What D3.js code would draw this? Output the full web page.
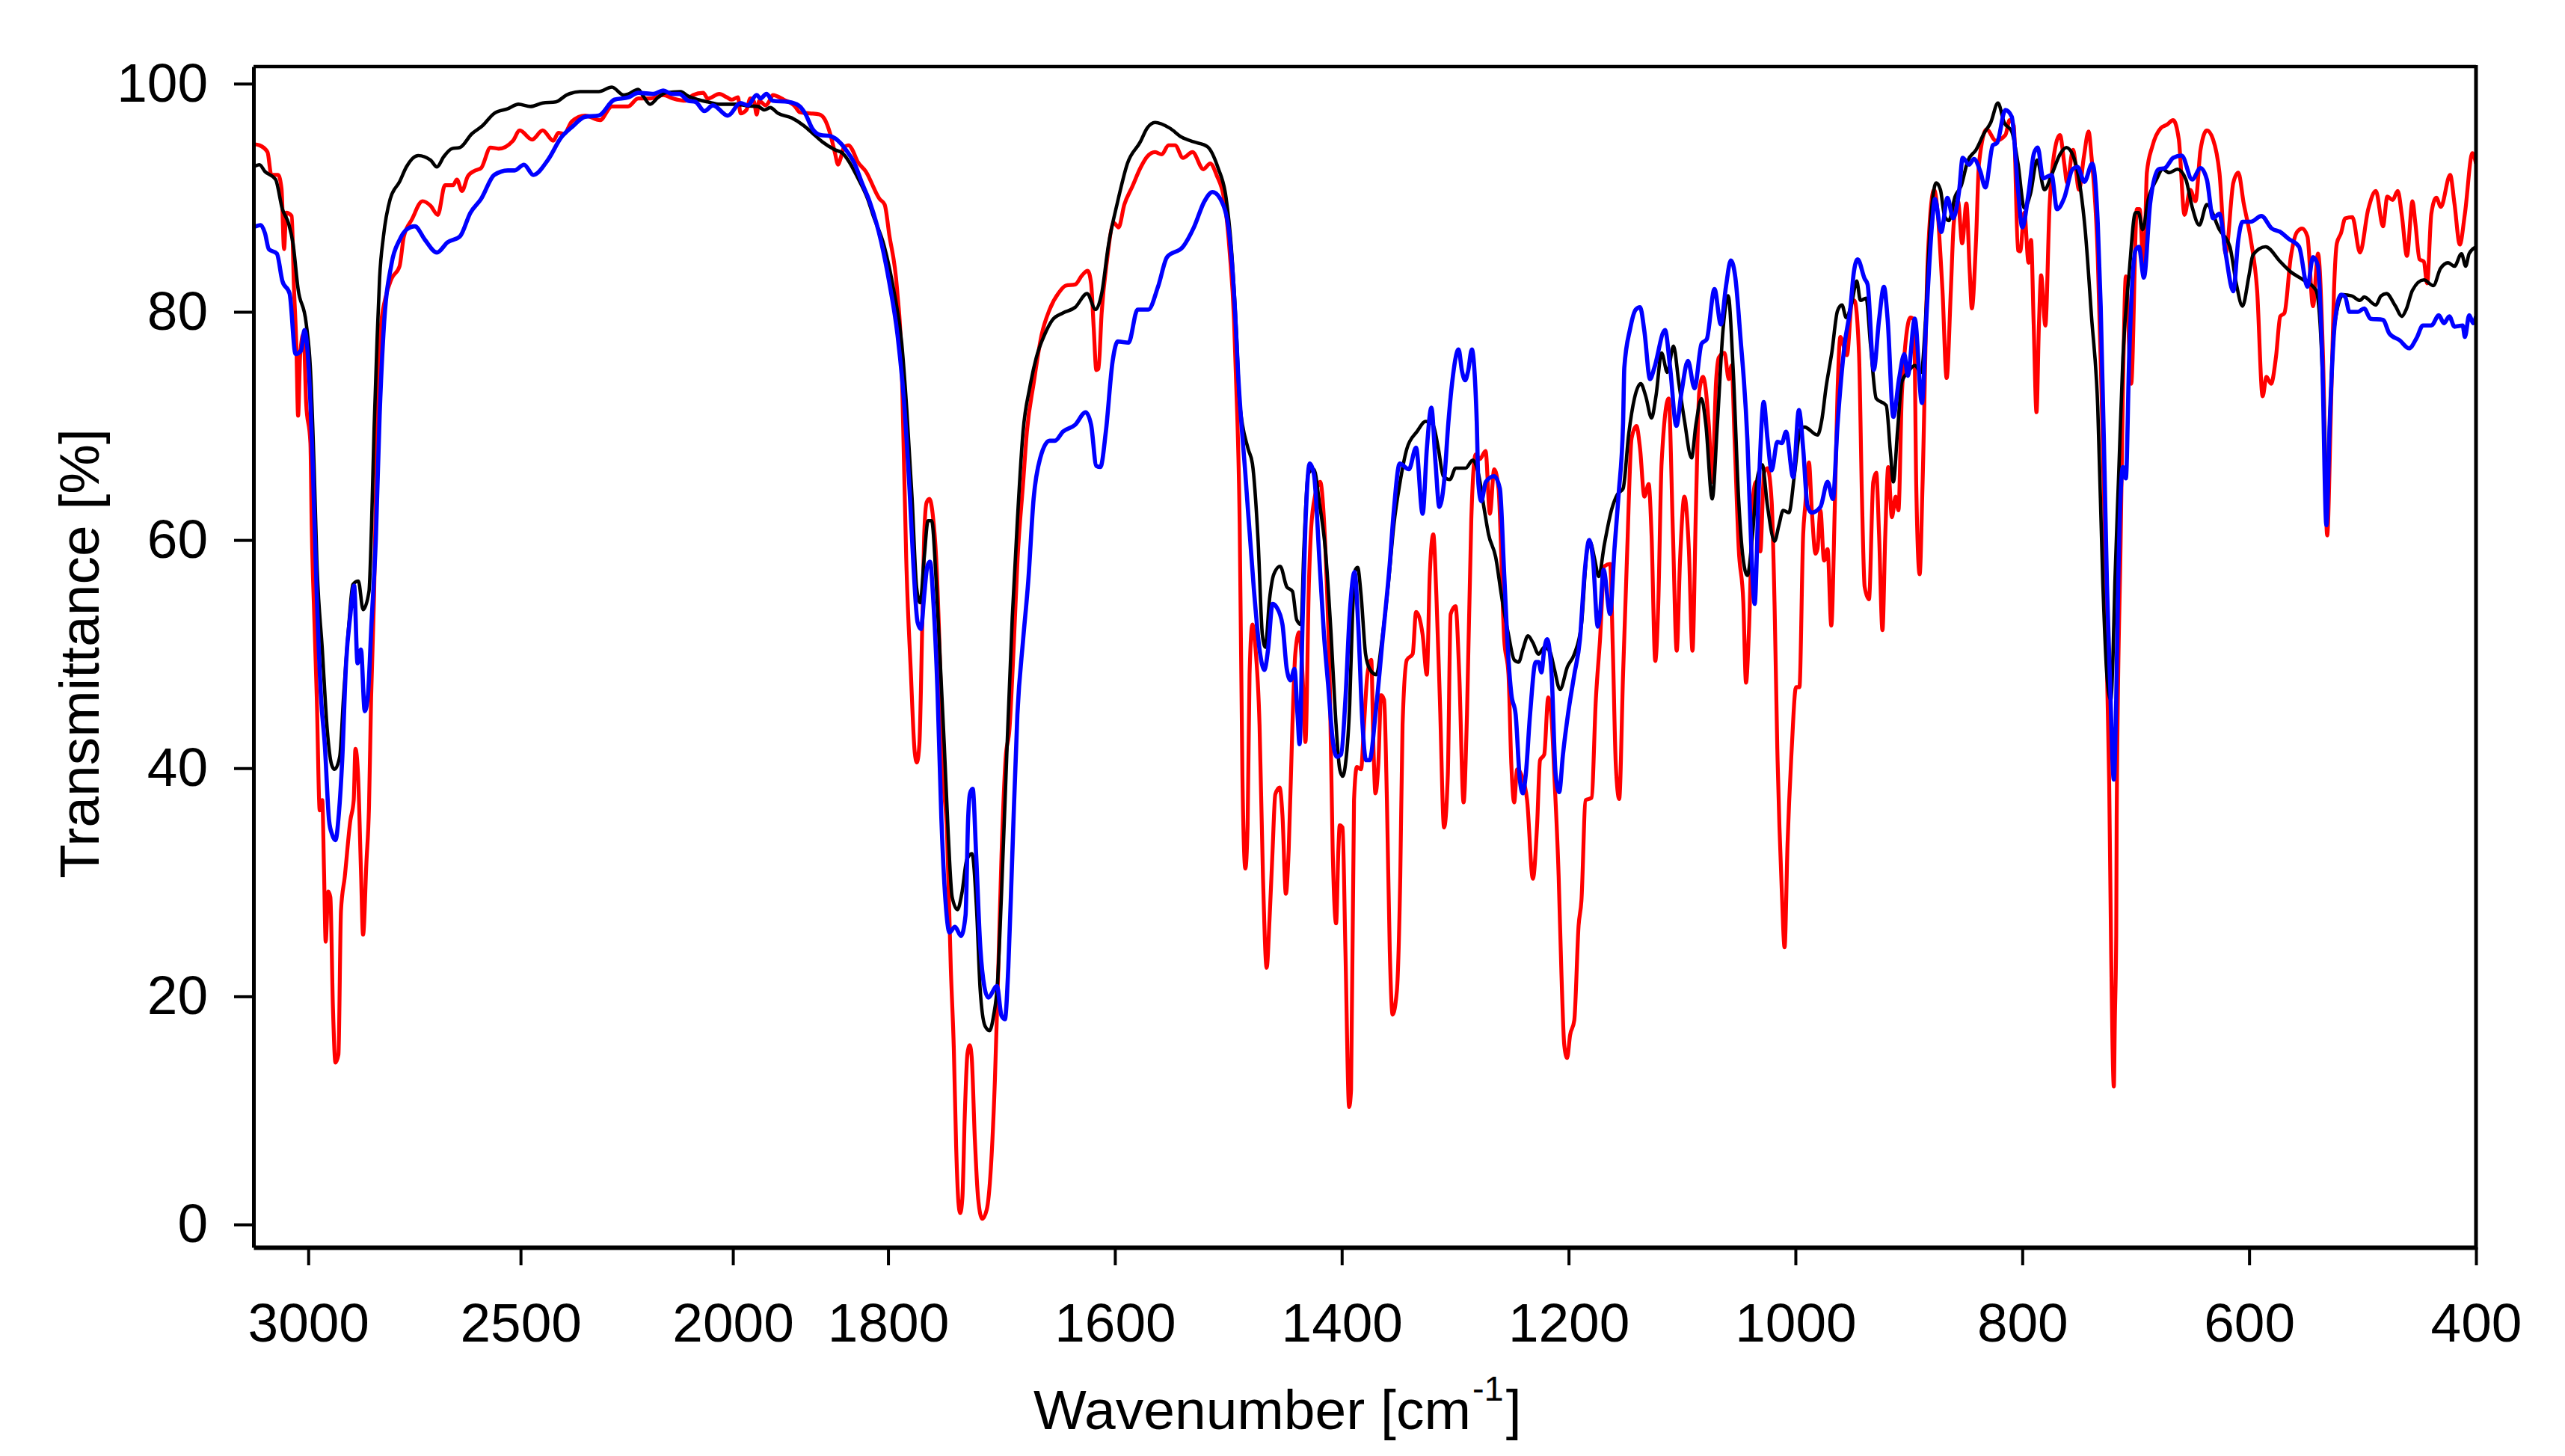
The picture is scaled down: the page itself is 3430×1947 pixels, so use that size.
<!DOCTYPE html>
<html>
<head>
<meta charset="utf-8">
<title>FTIR spectra</title>
<script src="https://cdn.jsdelivr.net/npm/d3@7"></script>
<style>
  html, body { margin: 0; padding: 0; background: #fff; }
  svg { display: block; }
  text { font-family: "Liberation Sans", Arial, sans-serif; fill: #000; }
</style>
</head>
<body>
<svg id="chart" width="3430" height="1947"></svg>
<script>
// tick labels
const xTicks = [3000, 2500, 2000, 1800, 1600, 1400, 1200, 1000, 800, 600, 400];
const yTicks = [0, 20, 40, 60, 80, 100];

// spectra: [wavenumber, transmittance %]
const redSpectrum = [
[3129,94.7],[3115,94.6],[3096,94],[3087,92],[3071,92],[3063,90.8],[3057,85.5],[3052,88.7],[3039,88.4],[3034,82.4],[3028,76.9],[3024,70.9],[3019,76.3],[3011,78.1],[3005,72],[2995,68.5],[2992,61.3],[2986,53.4],[2980,46.2],[2973,36.3],[2967,37.2],[2963,31.1],[2959,24.8],[2953,29.2],[2948,28.7],[2942,19.1],[2936,14.2],[2929,14.9],[2923,27.5],[2914,30.5],[2901,35.4],[2893,37.2],[2889,41.7],[2883,39.6],[2876,31.1],[2871,25.4],[2863,31.8],[2857,36.6],[2852,46.2],[2845,55.2],[2838,69.7],[2829,78.7],[2819,81.1],[2804,82.9],[2785,84],[2775,86.6],[2756,88.1],[2731,89.7],[2712,89.3],[2695,88.5],[2678,91.1],[2659,91.1],[2650,91.6],[2638,90.6],[2624,91.9],[2606,92.4],[2593,92.6],[2571,94.4],[2552,94.3],[2518,95],[2502,95.9],[2473,95.1],[2448,95.9],[2423,95],[2411,95.7],[2398,95.6],[2379,96.7],[2348,97.2],[2313,96.8],[2285,98],[2247,98],
[2223,98.7],[2194,98.7],[2164,99],[2141,98.7],[2111,98.5],[2094,99],[2070,99.2],[2059,98.7],[2032,99.1],[2014,98.8],[2003,98.6],[1988,98.8],[1982,97.4],[1968,97.7],[1959,98.7],[1950,98.4],[1944,97.3],[1938,98.5],[1923,98.1],[1912,98.6],[1906,99],[1892,98.6],[1882,98],[1878,97.5],[1869,97.4],[1860.6,97.3],[1856,96.9],[1851,95.6],[1847,94],[1844,92.9],[1842,93.4],[1839,94.4],[1834.7,94.6],[1831.5,94.2],[1827,93.2],[1819.6,92.3],[1807.5,89.9],
[1803,89.4],[1799,86.8],[1792,81.9],[1788,75.4],[1786,66.9],[1784,58.4],[1780,48.6],[1776.5,41.4],[1774.6,40.5],[1772.4,42.1],[1770,51.9],[1768.2,60.3],[1766,63.3],[1763.5,63.6],[1760.7,62.3],[1757.6,58.4],[1754,48.6],[1751.7,40.1],[1748,34.3],[1744.7,22.5],[1742,15.3],[1740,6.9],[1738,2],[1736.4,1],[1734.5,2.3],[1732.4,9.5],[1730,15],[1728,15.7],[1726.3,14.7],[1723.5,7.5],[1720.6,2.3],[1717,0.5],[1713,1.3],[1709.4,4.9],[1705.8,12.7],[1702.8,22.5],[1700,32.3],[1696.4,40.8],[1693,43.4],[1689,51.2],[1685.8,58.4],[1681,64.9],[1677.6,69.5],[1671.7,73.7],[1664.6,78],[1657.6,80.2],[1649.3,81.7],[1643.4,82.3],[1635,82.4],[1629,83.2],[1624,83.6],[1621,82.5],[1618.7,78.6],[1616.4,74.9],[1614.5,75],[1611.7,79.9],[1607,84.5],[1601,87.8],[1596.8,87.4],[1591.7,89.4],[1584.6,91],[1577.6,92.6],[1571.6,93.6],[1564.6,94],[1558.7,93.8],[1552.8,94.6],[1547,94.6],[1540,93.5],[1531.6,94],[1522,92.5],[1516,93],[1510.4,92],[1503,89.4],[1498.7,85.1],[1495,79.3],
[1493.4,74.6],[1490,61.4],[1487.6,39.4],[1485,31.2],[1483,35],[1481.3,48.2],[1478.8,52.6],[1476.3,50.8],[1472.5,43.8],[1469.5,30.6],[1466.2,22.5],[1463.7,26.7],[1461,32.8],[1458.6,37.7],[1454.8,38.3],[1452.3,35.9],[1449.3,29],[1446.8,32.8],[1443.5,43.8],[1441,50],[1437.7,51.9],[1434.6,48.2],[1432,42.3],[1429,56.1],[1427,61],[1423.3,64],[1419,65.1],[1415.7,61.8],[1413.2,56.1],[1410.7,48.2],[1408,32.8],[1405,26.4],[1403,32.8],[1401.8,35],[1399.3,34.8],[1396.8,24.1],[1393.5,10.3],[1391.8,11.8],[1389.2,37.2],[1386.7,40.1],[1383,39.9],[1380.4,43.8],[1377.4,48.2],[1374,49.5],[1372,41.6],[1370.3,37.8],[1367.8,40.3],[1365.3,46.4],[1362.7,46],[1360.2,37.2],[1357.7,24.1],[1355.2,18.4],[1351.4,20.5],[1348.4,30.6],[1346.4,43.8],[1342.6,49.5],[1337.5,50],[1334.5,53.7],[1328.7,51.7],[1325,48.2],[1322.4,57],[1319.3,60.5],[1316.6,55.2],[1313.5,46],[1309.8,34.8],[1306.5,39.4],[1304,53.5],[1299.7,54.2],[1296.4,48.2],[1292.6,37],[1289.6,44.7],[1285.8,61.8],[1282,67.5],[1278.2,67.1],[1273.2,67.8],[1269.4,62.3],[1265.6,66.2],[1261.8,64.5],[1256.8,51.3],[1253,48.2],[1250.5,40.3],[1248,37],[1245.4,39.9],[1241.6,39.4],[1236.6,37.2],[1231.5,30.3],[1227.8,35],[1225.2,40.7],[1221.5,41.2],[1218,46.2],[1215,44.3],[1212.6,39.4],[1208.8,30.6],[1206.3,21.9],[1203.8,15.7],[1201.3,14.6],[1198.7,16.6],[1195,17.9],[1191.2,26.2],[1188.7,28.4],[1185,37.2],[1179.8,37.4],[1176,46],[1172.3,51.3],[1168.5,57.7],[1163.4,57.9],[1161,50.4],[1158.4,40.3],[1155.4,37.3],[1152,48.2],[1148.3,59.2],[1144.5,68.9],[1140.2,70],[1137,68],
[1133.2,63.8],[1129.4,64.9],[1126.9,60.5],[1123.6,49.4],[1121,54.2],[1118,66.8],[1111.8,72.4],[1108,60.5],[1104.7,50.3],[1101.7,58.4],[1097.9,63.8],[1094,59.2],[1090.8,50.3],[1087.8,62.6],[1084.8,73],[1081.5,74.3],[1076.4,70.1],[1073.4,65.1],[1070,73.9],[1067.6,76],[1062.6,76.4],[1058.8,74.1],[1056.3,75.3],[1053.7,68.9],[1050,59.2],[1046,54.6],[1043.6,47.5],[1041,52.1],[1037.3,63.8],[1034.8,65.1],[1031,59],[1027.7,65.9],[1024.7,66.3],[1021,63.4],[1018.4,54.2],[1016,41.7],[1012,29.1],[1009.6,24.3],[1007,33.3],[1003.3,41.7],[999.5,47.1],[996.5,47.1],[993.2,60.5],[991.4,63],[988.1,66.8],[985.6,62.6],[982.3,58.8],[980.6,59.2],[978,62.6],[974.8,58.2],[971.7,59.2],[968.4,52.5],[965.4,62.6],[962.9,73],[960.4,77.8],[954.6,76.2],[950.3,80.8],[948,81],[944,76.4],[941.4,63.8],[939,55.9],[935.2,54.8],[931.4,65.1],[928.8,65.9],[926.3,60.5],[923.3,52.1],[920.8,60.5],[918.2,66.4],[915,62],[911.7,63.8],[909.2,62.6],[906.1,73],[898.6,79.5],[895.5,79.3],[893.5,64.7],[890.5,57],[888,64.7],
[883.3,84.8],[877.8,90.7],[870.4,81.9],[866.7,74.2],[863,81.9],[860.4,87.8],[856.7,89.7],[853,86],[849.3,89.5],[846.3,83.4],[844.5,80.3],[840.8,86.3],[838.2,93],[831.5,96],[823.4,95],[814.9,95.5],[811.2,96.8],[807.5,96.3],[803.8,85.4],[801.9,85.3],[798.2,88.7],[794.5,84.3],[792.3,86.3],[790,79],[787.5,71.2],[785.3,79],[783.4,83.2],[779.7,78.8],[776,89.2],[772.3,93.6],[766.8,95.5],[763,93],[760.5,91.3],[755.3,94.2],[750,90.7],[745.7,93.6],[741.6,95.8],[739,93.6],[733.5,84.8],[731,76],[728,64],[726,52],[725,46.8],[723.4,38.6],[721.7,24],[719.3,12.1],[718.4,18],[717.2,25.4],[716.8,35.7],[713.3,60],[711.3,73],[708.7,83.1],[704,73.7],[699,89],[696.5,89],[692.8,83.1],[690.2,92.2],[685.4,94.5],[678,96.1],[672.5,96.4],[667,96.8],[662,95.1],[657,88.5],[652,90.7],[647.3,89.7],[642.9,94.2],[637.3,95.9],[631.8,95.1],[626.2,92.2],[620.7,85.1],[614,91.3],[609.6,92.2],[604.8,89.5],[598.5,86.3],[593,81.9],[588.1,72.6],[584.8,74.3],[580.7,73.7],[576.3,76.1],[572.6,79.6],[568.9,79.9],[563.3,84.8],[557.8,87],[553.3,87.3],[548.6,86.6],[543.7,80.5],[539.3,85.1],[534.9,76.1],[531.2,60.4],[528.2,70.2],[525.2,81.9],[522.7,86],[519,86.9],[515.3,88.2],[509,88.3],[502.3,85.2],[495,89],[488.3,90.6],[482,87.5],[478.2,90.1],[473.5,89.8],[469,90.6],[465.3,88.4],[460.9,84.9],[456,89.7],[453.5,87.8],[449.8,84.6],[446,84.4],[443.1,82.5],[439.4,88.6],[435,90],[431,89.2],[422.8,92],[419,89.5],[414.3,85.9],[409.8,88.6],[403.2,93.9],[400,93]
];

const blackSpectrum = [
[3129,92.7],[3115,92.9],[3102,92.3],[3077,91.6],[3061,89],[3046,87.7],[3036,86],[3024,82],[3005,79],[2995,75],[2986,66],[2980,58.3],[2967,50.4],[2955,43.2],[2945,40.3],[2938,39.9],[2926,41],[2917,46.2],[2904,52.8],[2895,56.1],[2882,56.4],[2871,53.9],[2857,55.5],[2851,61.3],[2845,69.7],[2838,77.5],[2832,83],[2823,86.6],[2807,89.9],[2785,91.4],[2769,92.7],[2741,93.7],[2712,93.3],[2697,92.7],[2681,93.6],[2662,94.3],[2643,94.4],[2615,95.6],[2590,96.3],[2562,97.4],[2530,97.8],[2505,98.2],[2477,98],[2448,98.3],[2417,98.4],[2392,99],[2360,99.3],[2316,99.3],[2285,99.7],[2257,99],
[2246,99.1],[2223,99.5],[2211,98.9],[2195,98.2],[2176,98.8],[2158,99.2],[2123,99.3],[2105,98.9],[2082,98.6],[2059,98.4],[2030,98.2],[1994,98.2],[1965,98.06],[1941,98],[1926,97.7],[1912,97.9],[1897,97.4],[1885,97],[1874,96.3],[1867,95.7],[1858,94.9],[1846.8,94.2],[1840,93.9],[1834,93.1],[1827,91.8],[1818,89.9],
[1813,88.4],[1803.5,85.8],[1795,81.9],[1788,77.3],[1783.5,71.4],[1778.8,63.6],[1774.8,55.8],[1771.7,54.5],[1768.2,58.4],[1764.7,61.7],[1761.6,61.7],[1757.6,56.4],[1754,49.3],[1750.5,42.1],[1747,34.3],[1743.5,28.7],[1738.8,27.6],[1735,29],[1730.5,32],[1726,32.5],[1722,27.7],[1718.8,20.6],[1714.5,17.4],[1710.5,17],[1707,18.3],[1703.5,21.2],[1700,29],[1695,42.1],[1690.5,53.2],[1686,61.7],[1681,69.5],[1675,73.4],[1669.3,76],[1662,78],[1655,79.3],[1645.8,79.9],[1635,80.4],[1624.6,81.6],[1617,80.2],[1611.7,81.6],[1605.8,85.8],[1597.5,89.7],[1589,93],[1577.6,94.9],[1571.6,96.1],[1564.6,96.6],[1551.6,96.1],[1541,95.3],[1530.5,94.9],[1518.7,94.5],[1509,92.6],[1502,90],[1497.5,85.8],[1492.8,78],
[1490,72],[1482.6,68],[1478.8,66.7],[1473.8,60],[1470,51.7],[1467.4,50.6],[1463.7,54.8],[1459.9,57],[1454.3,57.7],[1448.5,55.9],[1443.5,55.5],[1439.7,53],[1435.9,52.6],[1433.4,59.2],[1429.6,65.8],[1424.6,66.2],[1419.5,63.1],[1414.5,59.2],[1409.4,51.7],[1405.6,44.7],[1401.8,39.9],[1399.3,39.3],[1396.8,40.3],[1393,45.6],[1390.5,53.5],[1388,57.4],[1386,57.6],[1383,55.2],[1379,50],[1375.4,48.7],[1369.6,48.2],[1364,51.7],[1359,56.1],[1354,61.4],[1348.9,64.9],[1342.6,68],[1333.7,69.5],[1326,70.4],[1320,70.2],[1314.8,68],[1310.5,65.6],[1304.7,65.3],[1299.6,66.3],[1290.8,66.3],[1284.5,67],[1279.5,65.8],[1274.4,62.7],[1270.6,60.5],[1264.3,58.5],[1259.3,55.2],[1253,51.7],[1248,49.5],[1244,49.3],[1240.4,50.4],[1235.8,51.6],[1231.5,51],[1226.5,50],[1221.5,50.6],[1216.4,50.2],[1212.6,48.7],[1207.6,46.9],[1201,48.9],[1195,50],[1188.7,52.6],[1183.6,59.2],[1181,59.8],[1177,58.3],[1173.5,56.8],[1168.5,59.6],[1162,62.7],[1157,64],[1152,64.5],[1147,69.3],[1142,72.4],[1136.4,73.7],
[1132,72.6],[1126.9,70.7],[1123,72.6],[1118,76.4],[1113,74.7],[1107.5,77],[1103,73.9],[1097.9,70.5],[1091.6,67.2],[1087.8,70.1],[1082.8,72.4],[1079,70.1],[1073.4,63.6],[1068.9,70.1],[1063.8,78.5],[1059.3,81.4],[1055,75.1],[1050,63.4],[1046.2,58.4],[1042.4,56.9],[1038,60.3],[1033.5,65.5],[1029.3,66.6],[1024.7,63],[1018.4,59.9],[1014.6,61.3],[1010.8,62.6],[1005.8,62.4],[1000.7,65.9],[995.7,69.7],[992,69.9],[980.6,69.2],[976.8,70.5],[973,73.4],[968,76.4],[962.9,80.1],[959,80.6],[955.3,79.5],[950.3,80.8],[946,82.7],[942.7,81],[937.7,81.2],[933.9,77.2],[928.8,72.4],[920,71.8],[916.2,67.6],[913.7,65.1],[909.9,69.7],[906.1,73.9],[901,74.7],[894.8,75.3],[889,74.7],[885.5,79],[881.5,87],
[875.9,91.3],[872.2,90.7],[868.5,88.4],[864.8,88],[859.3,90.1],[853.7,91.1],[848.2,93.2],[840.8,94.2],[833.4,95.7],[827.8,96.6],[821.5,98.3],[816,96.6],[809.3,95.8],[803.8,93],[798.2,89.1],[792.7,90.4],[787,93.3],[780.5,90.7],[774.2,92],[766.8,93.8],[761.2,94.4],[755.7,93.8],[750,91.6],[744.6,87.2],[739,79.6],[733.5,71.7],[729,56.2],[725.3,48],[722,46],[720,50],[718.4,56.2],[715,65.8],[711.3,76],[705.8,83.4],[700.2,88.7],[697.6,88.7],[693.9,87.2],[689.1,89.8],[681.7,91.6],[676.2,92.5],[670.6,92.2],[663.2,92.5],[655.8,91.6],[650.3,89.2],[644,87.6],[637.3,89.4],[626.2,87.2],[617,85.7],[611.4,82.5],[605.9,80.5],[600.3,83.1],[596.6,85],[585.5,85.7],[572.6,84.4],[563.3,83.5],[552.2,82.8],[541.1,81.9],[537.5,79],[533.8,70.2],[531.5,62.5],[529,70.2],[524.5,79],[517.1,81.5],[509.7,81.4],[502.3,81],[498.6,81.3],[488.3,80.6],[483.8,81.4],[479,81.6],[471,80.5],[465.3,79.6],[461.6,80.2],[456,81.9],[446,82.8],[437.6,82.3],[431.3,83.8],[424.6,84.3],[419,84],[412.8,85.1],[409.1,84],[406.1,85.1],[400,85.7]
];

const blueSpectrum = [
[3129,87.4],[3112,87.6],[3102,86.9],[3093,85.5],[3074,85.1],[3061,82.7],[3044,81.6],[3030,76.3],[3017,76.6],[3009,78.4],[2999,75.1],[2989,66.1],[2980,55.2],[2970,46.2],[2961,42],[2951,35.4],[2944,34.2],[2936,33.7],[2928,36],[2920,40.8],[2911,49.2],[2901,53.4],[2892,56],[2884,49.2],[2876,50.4],[2867,45],[2860,46.2],[2851,52.8],[2841,60],[2832,70.9],[2823,78.1],[2804,84.2],[2785,86.3],[2769,87.2],[2749,87.5],[2725,86.3],[2697,85.2],[2672,86.1],[2643,86.6],[2618,88.7],[2593,89.9],[2562,92],[2530,92.4],[2514,92.4],[2492,92.9],[2470,92],[2436,93.3],[2404,95.3],[2379,96.2],[2348,97.1],[2316,97.2],[2279,98.6],
[2246,98.8],[2223,99.2],[2187,99.1],[2164,99.4],[2143,99.1],[2126,99.1],[2105,98.5],[2088,98.4],[2067,97.6],[2047,98.1],[2012,97.2],[1982,98.3],[1965,98.1],[1944,99],[1935,98.7],[1921,99.1],[1906,98.5],[1888,98.4],[1879,98.1],[1872.6,97.3],[1867,96.1],[1859.6,95.5],[1851,95.4],[1842,94.8],[1835.7,94],[1830,93.1],[1822.6,91.2],[1816,89.6],
[1806,86.1],[1798.8,82.5],[1791.7,78],[1785.9,72.1],[1781,64.3],[1777.6,57.7],[1774,52.8],[1771,52.2],[1768.2,55.1],[1765.4,57.7],[1763,58.1],[1760,54.5],[1756.4,46.7],[1753,35.6],[1749.4,28.4],[1745.8,25.6],[1741,26.1],[1735.7,25.3],[1731.7,27.1],[1729.4,35.6],[1727.7,37.8],[1725.4,38.2],[1722.3,32.3],[1718.8,24.5],[1715.2,20.9],[1711.7,19.9],[1704,20.9],[1700,18.3],[1697,18],[1694,22.5],[1690.5,32.3],[1686,44.7],[1681,51.2],[1676.4,56.4],[1671.7,63.6],[1665.8,67.2],[1657.6,68.7],[1652.9,68.7],[1645.8,69.5],[1635,70.1],[1625.8,71.2],[1621,70.1],[1616.4,66.5],[1612.8,66.4],[1608,69.5],[1602,75.7],[1597.5,77.4],[1588,77.3],[1580,80.2],[1570.5,80.2],[1562,82.2],[1554,84.8],[1540,85.7],[1530.4,87.4],[1521,89.7],[1514,90.5],[1504.6,89.4],[1498.7,86.4],[1494,79.9],
[1491.4,74.6],[1485,65.8],[1477.5,55.7],[1472.5,50.4],[1468.2,48.6],[1465,50.4],[1461,54.4],[1457.4,54.1],[1452.3,52.6],[1448.5,48.7],[1445.2,47.7],[1441.7,48.7],[1439,44.7],[1437.2,42.1],[1434.6,52.6],[1432,61.4],[1428.3,66.7],[1424.6,65.8],[1419.5,57.9],[1415.7,51.7],[1412,47.3],[1408,42.5],[1404.4,41],[1400.6,41.2],[1396.8,46],[1393,53.5],[1388.7,57.2],[1385.5,52.6],[1381.7,43.8],[1378.6,40.7],[1375.4,40.7],[1370.3,44.7],[1364,51.3],[1357.7,57.9],[1354,62.7],[1348.9,66.7],[1340.8,66.2],[1334.5,68.1],[1328.7,62.3],[1325,68],[1321,71.6],[1317.3,66.7],[1314,62.9],[1309.8,65.1],[1306,70.3],[1302.8,73.7],[1297,76.7],[1294,74.8],[1291.2,74],[1288.6,74.8],[1285.3,76.7],[1283,74.8],[1281,70.4],[1279.5,64.9],[1277,63.4],[1273,65.1],[1265.6,65.6],[1260.6,64.5],[1256.8,57],[1253,49.5],[1250.5,46.5],[1246.7,44.7],[1243,39],[1240.4,37.8],[1237.8,39.4],[1234,44.7],[1229,49.3],[1226.5,49.3],[1224,48.4],[1221.5,50.4],[1219,51.3],[1215,48.2],[1211.4,39.4],[1208.3,37.9],[1205,41.2],[1200,45.1],[1195,48.2],[1190,51.3],[1186,57],[1181.8,60],[1178.5,58.3],[1174.3,52.4],[1172.3,53.5],[1169.2,57.4],[1163.4,53.5],[1159.6,59.2],[1155.9,64],[1152,70.2],
[1150.9,75.1],[1145.8,78.5],[1140.8,80.2],[1137,80.4],[1133.2,78.3],[1128.2,74.1],[1124.4,75.1],[1115,78.4],[1110.5,75.1],[1105,70],[1100.4,73],[1094.8,75.7],[1089,73.3],[1082.8,77.2],[1078.2,77.6],[1071.4,82],[1065.8,78.9],[1061.3,82.2],[1057,84.5],[1053,83],[1048.7,78],[1042.4,68.8],[1038.6,58.4],[1036,54.4],[1032.3,64.7],[1028,72.1],[1024.7,68.9],[1021,66.1],[1016,68.6],[1012,68.5],[1008.3,69.5],[1002,65.5],[997,71.4],[993.2,68],[989.4,63],[985.6,62.4],[978,62.9],[971.7,65.1],[967,63.6],[962.9,70.1],[956.6,77.2],[951.5,80.4],[948.5,83.5],[945.2,84.6],[939,82.9],[936.4,82.4],[931,74.9],[926.3,79.3],[922,82.2],[918.7,79.3],[913.7,70.8],[908.7,74.1],[904,76.3],[901,74.4],[894.8,79.4],[888.5,72],[884.7,79.3],[879.6,87.67],
[877,89.9],[871.5,87],[866,90],[861,88.2],[855.6,90.7],[852.6,93.5],[847,92.9],[842.6,93.4],[837,92.3],[832.6,90.9],[826,94.6],[822.3,94.8],[814.9,97.7],[809.3,97.1],[803.8,90.7],[800,87.4],[794.5,90.4],[789.7,93.9],[786.4,94.4],[781.6,91.7],[774.2,92],[769.4,89],[763,90],[755.7,92.5],[751.3,92.7],[745.3,91.4],[738.3,93],[733.5,87.8],[730.9,80.5],[727.5,66],[725.4,56.2],[722.7,47.7],[719.3,39],[717.2,46],[715.5,56],[711.3,66.4],[708.7,65.4],[705.8,76],[700.2,85.4],[697.2,85.7],[692.8,83],[687.3,89.5],[679.9,92.5],[674.3,92.6],[666.9,93.5],[659.5,93.7],[650.3,91.6],[642.9,92.6],[637.3,91.6],[631.8,88.2],[626.2,88.6],[620.7,85.1],[614,81.8],[609.6,86.3],[605.9,87.9],[598.5,87.9],[589.2,88.4],[580,87.3],[572.6,87],[565.2,86.4],[556,85.7],[548.6,82.2],[543.7,84.8],[539.3,84],[535.6,76],[531.9,61.3],[529,70.2],[524.5,79],[519,81.5],[515.3,81.3],[511.6,80],[504,80],[498.6,80.3],[493,79.4],[482,79.3],[476.4,78.1],[467.2,77.5],[459,76.8],[452.4,77.7],[446.8,78.8],[439.4,78.8],[432.8,79.7],[428.3,79],[423.5,79.6],[419,78.7],[411.7,78.8],[409.8,77.8],[406,79.7],[402.4,79],[400,79.6]
];

const svg = d3.select('#chart');
svg.append('rect').attr('width', 3430).attr('height', 1947).attr('fill', '#fff');

const plot = { left: 339, right: 3311, top: 89, bottom: 1668 };
const tick_font_size = 73;
const title_font_size = 75;

// the wavenumber axis is compressed above 1899 cm-1
const xScale = d3.scaleLinear().domain([3129, 1899, 400]).range([plot.left, 1037.4, plot.right]);
const yScale = d3.scaleLinear().domain([-2, 101.5]).range([plot.bottom, plot.top]);

svg.append('clipPath').attr('id', 'plot_clip').append('rect')
    .attr('x', plot.left).attr('y', plot.top)
    .attr('width', plot.right - plot.left).attr('height', plot.bottom - plot.top);

const lineGen = d3.line().x(d => xScale(d[0])).y(d => yScale(d[1])).curve(d3.curveMonotoneX);

// red at the bottom, blue on top
function drawSpectrum(values, color, width) {
    const sorted = values.slice().sort((a, b) => b[0] - a[0]);
    svg.append('path').datum(sorted).attr('d', lineGen)
        .attr('fill', 'none').attr('stroke', color).attr('stroke-width', width)
        .attr('stroke-linejoin', 'round').attr('clip-path', 'url(#plot_clip)');
}
drawSpectrum(redSpectrum, '#ff0000', 5.2);
drawSpectrum(blackSpectrum, '#000000', 4.6);
drawSpectrum(blueSpectrum, '#0000ff', 5.6);

// axes
const xAxis = d3.axisBottom(xScale).tickValues(xTicks).tickFormat(d3.format('d'))
    .tickSizeInner(24).tickSizeOuter(0).tickPadding(50);
const yAxis = d3.axisLeft(yScale).tickValues(yTicks).tickFormat(d3.format('d'))
    .tickSizeInner(26).tickSizeOuter(0).tickPadding(35);

const xGroup = svg.append('g').attr('transform', `translate(0,${plot.bottom})`).call(xAxis);
const yGroup = svg.append('g').attr('transform', `translate(${plot.left},0)`).call(yAxis);

for (const g of [xGroup, yGroup]) {
    g.select('.domain').attr('stroke', '#000').attr('stroke-width', 5);
    g.selectAll('.tick line').attr('stroke', '#000').attr('stroke-width', 4);
    g.selectAll('.tick text').attr('font-size', tick_font_size).attr('font-family', '"Liberation Sans", Arial, sans-serif').attr('fill', '#000');
}
xGroup.select('.domain').attr('stroke-width', 6);

// top and right frame
svg.append('line').attr('x1', plot.left).attr('x2', plot.right).attr('y1', plot.top).attr('y2', plot.top)
    .attr('stroke', '#000').attr('stroke-width', 4.5);
svg.append('line').attr('x1', plot.right).attr('x2', plot.right).attr('y1', plot.top - 2).attr('y2', plot.bottom + 3)
    .attr('stroke', '#000').attr('stroke-width', 5);

// axis titles
svg.append('text').attr('transform', 'translate(132,874) rotate(-90)')
    .attr('text-anchor', 'middle').attr('font-size', title_font_size).text('Transmittance [%]');

const xTitle = svg.append('text').attr('x', 1382).attr('y', 1911).attr('font-size', title_font_size);
xTitle.append('tspan').text('Wavenumber [cm');
xTitle.append('tspan').attr('font-size', 47).attr('dx', 2).attr('dy', -38).text('-1');
xTitle.append('tspan').attr('dx', 3).attr('dy', 38).text(']');
</script>
</body>
</html>
